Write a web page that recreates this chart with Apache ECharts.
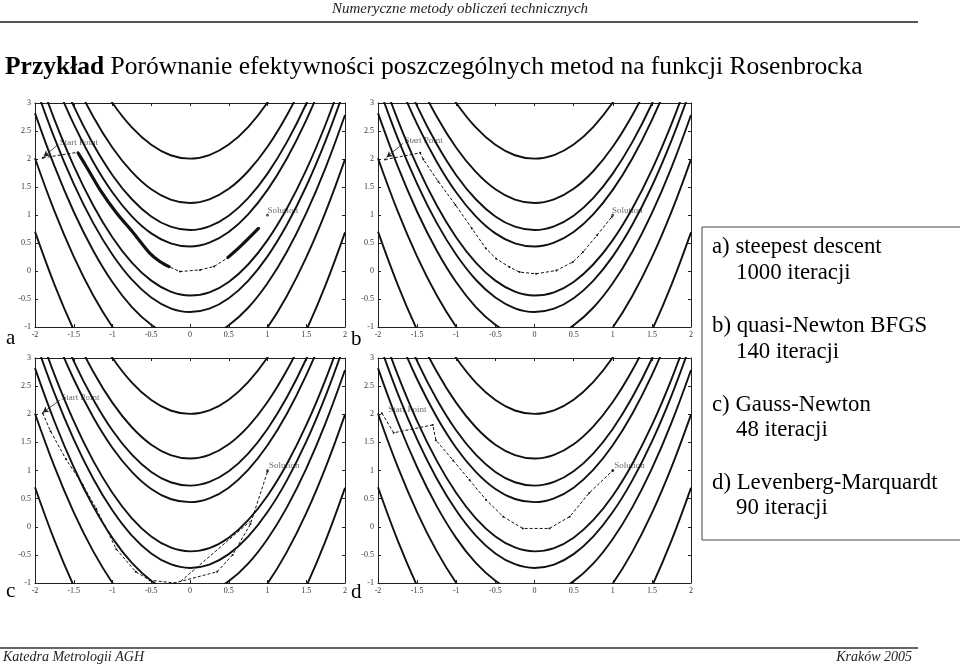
<!DOCTYPE html>
<html><head><meta charset="utf-8">
<script src="https://cdn.jsdelivr.net/npm/echarts@6/dist/echarts.min.js"></script>
<style>html,body{margin:0;padding:0;background:#fff}#c{width:960px;height:665px}</style>
</head><body><div id="c"></div>
<script>
// ---- data ----
const xTicks = ['-2','-1.5','-1','-0.5','0','0.5','1','1.5','2'];
const contourX = [-2,-1.75,-1.5,-1.25,-1,-0.75,-0.5,-0.25,0,0.25,0.5,0.75,1,1.25,1.5,1.75,2];
const contourUpper3 = [4.333,3.417,2.622,1.951,1.401,0.976,0.672,0.493,0.437,0.505,0.695,1.010,1.448,2.010,2.695,3.505,4.437];
const contourLower3 = [3.667,2.709,1.878,1.175,0.599,0.150,-0.172,-0.368,-0.437,-0.380,-0.195,0.116,0.552,1.116,1.805,2.621,3.563];
const contourUpper4 = [4.675,3.749,2.945,2.267,1.711,1.281,0.974,0.791,0.732,0.798,0.987,1.301,1.739,2.301,2.987,3.798,4.732];
const contourLower4 = [3.325,2.377,1.555,0.859,0.289,-0.156,-0.474,-0.666,-0.732,-0.673,-0.487,-0.176,0.261,0.825,1.513,2.328,3.268];
const contourUpper5 = [5.181,4.250,3.442,2.760,2.202,1.769,1.459,1.275,1.214,1.279,1.467,1.781,2.218,2.781,3.467,4.279,5.214];
const contourLower5 = [2.819,1.876,1.058,0.366,-0.202,-0.644,-0.959,-1.150,-1.214,-1.154,-0.967,-0.656,-0.218,0.345,1.033,1.847,2.786];
const contourUpper6 = [5.986,5.053,4.243,3.558,2.999,2.563,2.253,2.067,2.006,2.070,2.258,2.571,3.009,3.571,4.258,5.070,6.006];
const contourLower6 = [2.014,1.073,0.257,-0.434,-0.999,-1.439,-1.753,-1.943,-2.006,-1.945,-1.758,-1.446,-1.009,-0.446,0.242,1.056,1.994];
const contourLower7 = [0.702,-0.238,-1.052,-1.742,-2.306,-2.745,-3.058,-3.246,-3.310,-3.249,-3.061,-2.749,-2.312,-1.749,-1.061,-0.248,0.690];

const pathA = [[-1.9,2.02],[-1.45,2.12],[-1.34,1.87],[-1.16,1.45],[-0.95,1.04],[-0.73,0.68],[-0.52,0.32],[-0.39,0.17],[-0.26,0.07],[-0.13,-0.01],[0.13,0.02],[0.31,0.08],[0.48,0.23],[0.65,0.44],[0.89,0.77]];
const pathB = [[-1.91,1.99],[-1.46,2.11],[-1.42,1.99],[-1.23,1.60],[-1.01,1.18],[-0.80,0.76],[-0.62,0.40],[-0.49,0.22],[-0.32,0.07],[-0.19,-0.02],[0.02,-0.05],[0.28,0.01],[0.49,0.16],[0.62,0.34],[0.80,0.64],[0.99,0.97]];
const pathC = [[-1.9,2.02],[-1.8,1.7],[-1.6,1.2],[-1.38,0.74],[-1.21,0.32],[-1.1,0.02],[-0.95,-0.4],[-0.7,-0.8],[-0.52,-0.95],[-0.2,-1.0],[0.35,-0.8],[0.55,-0.5],[0.78,0.05],[1.0,0.98]];
const pathC2 = [[-0.12,-0.97],[0.78,0.1]];
const pathD = [[-1.95,2.02],[-1.8,1.67],[-1.3,1.81],[-1.26,1.54],[-1.04,1.18],[-0.83,0.83],[-0.62,0.48],[-0.4,0.18],[-0.15,-0.03],[0.19,-0.03],[0.45,0.18],[0.7,0.6],[1.0,1.0]];
const solutionPoint = [1,1];
const startLabelPos = [[-1.68,2.29],[-1.66,2.33],[-1.66,2.29],[-1.87,2.08]];
const solutionLabelPos = [[1.0,1.08],[0.99,1.08],[1.02,1.09],[1.02,1.09]];
const startArrows = [[[-1.70,2.26],[-1.89,2.04]],[[-1.68,2.28],[-1.89,2.03]],[[-1.68,2.25],[-1.9,2.03]],null];
const panelLetters = ['a','b','c','d'];
const methodLines = ['a) steepest descent','1000 iteracji','b) quasi-Newton BFGS','140 iteracji','c) Gauss-Newton','48 iteracji','d) Levenberg-Marquardt','90 iteracji'];

// ---- layout ----
const FONT = '"Liberation Serif", "Times New Roman", serif';
const grids = [
  {left:35, top:103, width:310, height:224},
  {left:378, top:103, width:313, height:224},
  {left:35, top:358, width:310, height:225},
  {left:378, top:358, width:313, height:225}
];
const xAxis = [], yAxis = [], series = [];
const axisLineStyle = {color:'#222', width:1};
grids.forEach((g,i)=>{
  xAxis.push({gridIndex:i, type:'value', min:-2, max:2, interval:0.5, position:'bottom',
    axisLine:{show:true, onZero:false, lineStyle:axisLineStyle},
    axisTick:{show:true, inside:true, length:3, lineStyle:axisLineStyle},
    splitLine:{show:false},
    axisLabel:{show:true, fontSize:8, fontFamily:FONT, color:'#333', margin:4,
      formatter:(v)=>xTicks[Math.round((v+2)/0.5)]}});
  xAxis.push({gridIndex:i, type:'value', min:-2, max:2, interval:0.5, position:'top',
    axisLine:{show:true, onZero:false, lineStyle:axisLineStyle},
    axisTick:{show:true, inside:true, length:3, lineStyle:axisLineStyle},
    splitLine:{show:false}, axisLabel:{show:false}});
  yAxis.push({gridIndex:i, type:'value', min:-1, max:3, interval:0.5, position:'left',
    axisLine:{show:true, onZero:false, lineStyle:axisLineStyle},
    axisTick:{show:true, inside:true, length:3, lineStyle:axisLineStyle},
    splitLine:{show:false},
    axisLabel:{show:true, fontSize:8, fontFamily:FONT, color:'#333', margin:4}});
  yAxis.push({gridIndex:i, type:'value', min:-1, max:3, interval:0.5, position:'right',
    axisLine:{show:true, onZero:false, lineStyle:axisLineStyle},
    axisTick:{show:true, inside:true, length:3, lineStyle:axisLineStyle},
    splitLine:{show:false}, axisLabel:{show:false}});
});

const contours = [contourUpper3, contourLower3, contourUpper4, contourLower4, contourUpper5, contourLower5, contourUpper6, contourLower6, contourLower7];
const paths = [pathA, pathB, pathC, pathD];

grids.forEach((g,i)=>{
  const xi = 2*i, yi = 2*i;
  contours.forEach(cy=>{
    series.push({type:'line', xAxisIndex:xi, yAxisIndex:yi, smooth:0.4, showSymbol:false, silent:true, clip:true,
      lineStyle:{color:'#111', width:1.9}, data: contourX.map((x,k)=>[x, cy[k]])});
  });
  const p = {type:'line', xAxisIndex:xi, yAxisIndex:yi, clip:true, silent:true,
    symbol:'circle', symbolSize:2, showSymbol:true, itemStyle:{color:'#111'},
    lineStyle:{color:'#111', width:1, type:[3,2]}, data: paths[i]};
  if (startArrows[i]) {
    p.markLine = {silent:true, symbol:['none','arrow'], symbolSize:[5,6], label:{show:false},
      lineStyle:{color:'#222', width:0.8, type:'solid'},
      data:[[{coord:startArrows[i][0]},{coord:startArrows[i][1]}]]};
  }
  series.push(p);
  if (i===0) {
    [pathA.slice(1,9), pathA.slice(12)].forEach(seg=>{
      series.push({type:'line', xAxisIndex:xi, yAxisIndex:yi, showSymbol:false, silent:true, smooth:0.3,
        lineStyle:{color:'#111', width:3.2}, data:seg});
    });
  }
  if (i===2) {
    series.push({type:'line', xAxisIndex:xi, yAxisIndex:yi, showSymbol:false, silent:true,
      lineStyle:{color:'#111', width:1, type:[3,2]}, data:pathC2});
  }
  series.push({type:'scatter', xAxisIndex:xi, yAxisIndex:yi, symbol:'circle', symbolSize:3, silent:true,
    itemStyle:{color:'#333'}, data:[solutionPoint]});
  series.push({type:'scatter', xAxisIndex:xi, yAxisIndex:yi, symbolSize:0, silent:true,
    label:{show:true, position:'right', distance:0, formatter:'{b}', fontSize:9, fontFamily:FONT, color:'#444'},
    data:[{name:'Start Point', value:startLabelPos[i]},{name:'Solution', value:solutionLabelPos[i]}]});
});

const txt = (x,y,text,size,extra)=>Object.assign({type:'text', x, y, silent:true,
  style:Object.assign({text, font:`${size}px ${FONT}`, fill:'#000', textVerticalAlign:'middle'}, extra||{})});

const graphic = [
  txt(460, 9, 'Numeryczne metody obliczeń technicznych', 15, {font:`italic 15px ${FONT}`, textAlign:'center', fill:'#222'}),
  {type:'line', silent:true, shape:{x1:0,y1:22,x2:918,y2:22}, style:{stroke:'#555', lineWidth:2}},
  {type:'text', x:5, y:67, silent:true, style:{text:'{b|Przykład} Porównanie efektywności poszczególnych metod na funkcji Rosenbrocka',
    font:`25.5px ${FONT}`, fill:'#000', textVerticalAlign:'middle',
    rich:{b:{font:`bold 25.5px ${FONT}`, fill:'#000'}}}},
  {type:'line', silent:true, shape:{x1:0,y1:648,x2:918,y2:648}, style:{stroke:'#666', lineWidth:2}},
  txt(3, 657, 'Katedra Metrologii AGH', 14, {font:`italic 14px ${FONT}`, fill:'#222'}),
  txt(912, 657, 'Kraków 2005', 14, {font:`italic 14px ${FONT}`, fill:'#222', textAlign:'right'}),
  txt(6, 338, panelLetters[0], 21),
  txt(351, 339, panelLetters[1], 21),
  txt(6, 591, panelLetters[2], 21),
  txt(351, 592, panelLetters[3], 21),
  {type:'rect', silent:true, shape:{x:702, y:227, width:300, height:313}, style:{fill:'none', stroke:'#444', lineWidth:1}}
];
const methodPos = [[712,247],[736,273],[712,326],[736,352],[712,405],[736,430],[712,483],[736,508]];
methodLines.forEach((t,k)=>graphic.push(txt(methodPos[k][0], methodPos[k][1], t, 22.8)));

const chart = echarts.init(document.getElementById('c'), null, {renderer:'canvas'});
chart.setOption({animation:false, backgroundColor:'#fff', grid:grids, xAxis, yAxis, series, graphic});
</script></body></html>
